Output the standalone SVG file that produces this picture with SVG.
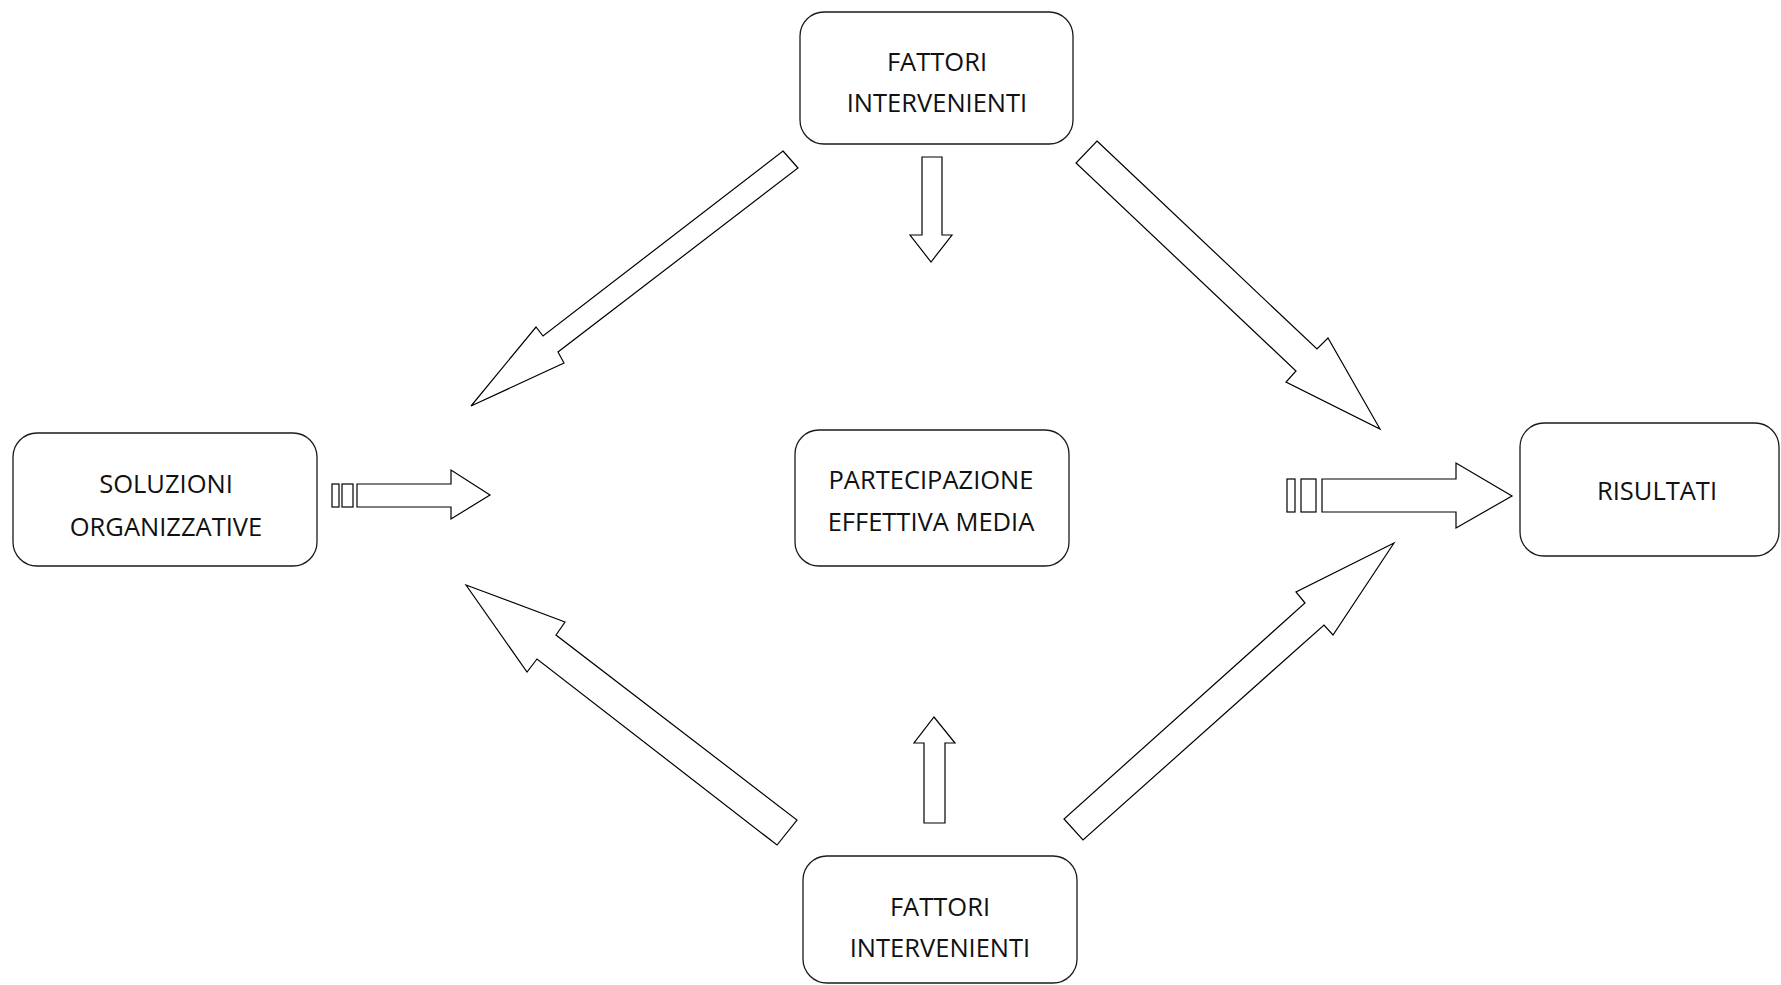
<svg xmlns="http://www.w3.org/2000/svg" width="1781" height="985" viewBox="0 0 1781 985">
  <style>
    .box { fill: #ffffff; stroke: #1a1a1a; stroke-width: 1.3; }
    .arrow { fill: #ffffff; stroke: #000000; stroke-width: 1.2; stroke-linejoin: miter; }
    .label { font-family: "Open Sans", "Noto Sans", "Liberation Sans", sans-serif; font-size: 25.5px; fill: #111111; text-anchor: middle; dominant-baseline: central; }
  </style>
  <rect x="0" y="0" width="1781" height="985" fill="#ffffff"/>

  <g id="connectors">
    <!-- top node to centre -->
    <polygon class="arrow" points="922,157 942,157 942,235 952,235 931,262 910,235 922,235"/>
    <!-- top node to left -->
    <polygon class="arrow" points="783,151 798,168 558,352 564,363 471,406 536,327 543,336"/>
    <!-- top node to right -->
    <polygon class="arrow" points="1097,141 1317,349 1328,338 1380,429 1286,382 1296,371 1076,163"/>
    <!-- bottom node to centre -->
    <polygon class="arrow" points="924,823 945,823 945,743 955,743 934,717 914,743 924,743"/>
    <!-- bottom node to left -->
    <polygon class="arrow" points="466,585 565,622 556,635 797,820 777,845 537,659 527,672"/>
    <!-- bottom node to right -->
    <polygon class="arrow" points="1394,543 1333,635 1324,625 1083,840 1064,819 1305,603 1296,592"/>
    <!-- left node outgoing -->
    <rect class="arrow" x="332" y="484" width="7" height="23"/>
    <rect class="arrow" x="342" y="484" width="11" height="23"/>
    <polygon class="arrow" points="357,484 451,484 451,470 490,495 451,519 451,507 357,507"/>
    <!-- into results node -->
    <rect class="arrow" x="1287" y="479" width="8" height="33"/>
    <rect class="arrow" x="1301" y="479" width="15" height="33"/>
    <polygon class="arrow" points="1322,479 1456,479 1456,463 1512,496 1456,528 1456,512 1322,512"/>
  </g>

  <g id="node-fattori-top">
    <rect class="box" x="800" y="12" width="273" height="132" rx="24" ry="24"/>
    <text class="label" x="937" y="61">FATTORI</text>
    <text class="label" x="937" y="102">INTERVENIENTI</text>
  </g>

  <g id="node-soluzioni">
    <rect class="box" x="13" y="433" width="304" height="133" rx="24" ry="24"/>
    <text class="label" x="166" y="483">SOLUZIONI</text>
    <text class="label" x="166" y="526">ORGANIZZATIVE</text>
  </g>

  <g id="node-partecipazione">
    <rect class="box" x="795" y="430" width="274" height="136" rx="24" ry="24"/>
    <text class="label" x="931" y="479">PARTECIPAZIONE</text>
    <text class="label" x="931" y="521">EFFETTIVA MEDIA</text>
  </g>

  <g id="node-risultati">
    <rect class="box" x="1520" y="423" width="259" height="133" rx="24" ry="24"/>
    <text class="label" x="1657" y="490">RISULTATI</text>
  </g>

  <g id="node-fattori-bottom">
    <rect class="box" x="803" y="856" width="274" height="127" rx="24" ry="24"/>
    <text class="label" x="940" y="906">FATTORI</text>
    <text class="label" x="940" y="947">INTERVENIENTI</text>
  </g>
</svg>
